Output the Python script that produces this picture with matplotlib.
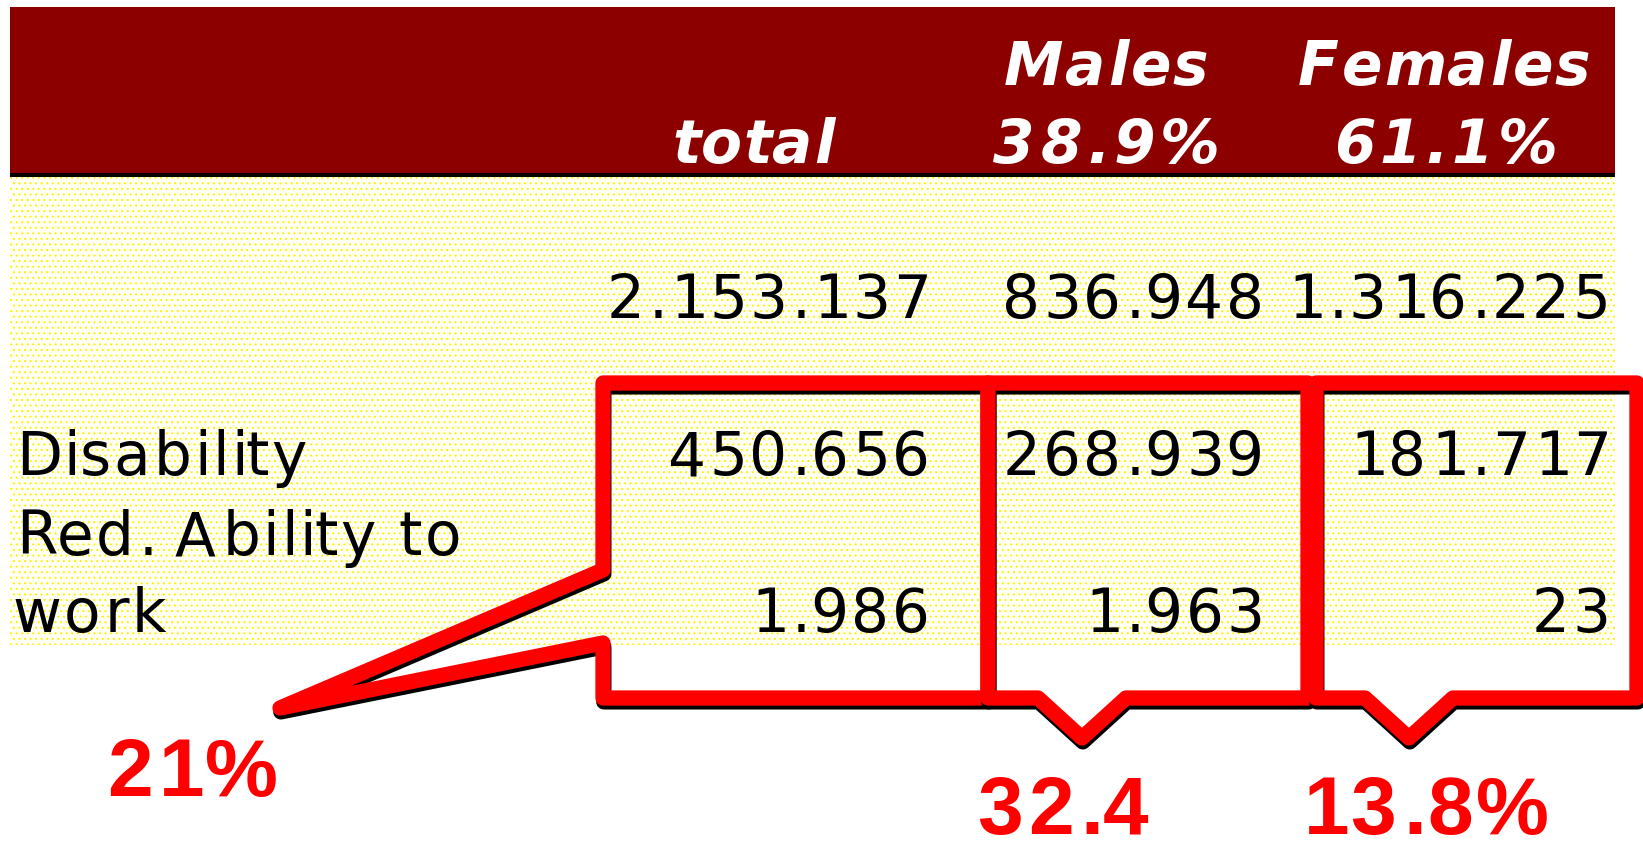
import matplotlib
matplotlib.use("Agg")
import matplotlib.pyplot as plt
from matplotlib.patches import Rectangle, Polygon
from matplotlib.font_manager import FontProperties, findfont, get_font
import matplotlib.patheffects as pe

# ---------------- data ----------------
col_names = ["total", "Males", "Females"]
col_shares = ["", "38.9%", "61.1%"]
row_labels = ["", "Disability", "Red. Ability to\nwork"]
total_values = ["2.153.137", "450.656", "1.986"]
male_values = ["836.948", "268.939", "1.963"]
female_values = ["1.316.225", "181.717", "23"]
callout_labels = ["21%", "32.4", "13.8%"]

# ---------------- layout ----------------
W, H, DPI = 1643, 850, 100
fig = plt.figure(figsize=(W / DPI, H / DPI), dpi=DPI)
ax = fig.add_axes([0, 0, 1, 1])
ax.set_xlim(0, W)
ax.set_ylim(H, 0)
ax.axis("off")

TABLE_L, TABLE_R = 10, 1615
HEAD_T, HEAD_B = 7, 173
BODY_B = 645
head_centers = [751, 1105, 1443]
col_rights = [926, 1260, 1606]
label_left = 10
row_baselines = [318, 475, 632]
line_gap = 77
head_base = [85, 163]

DARK_RED = "#8C0000"
RED = "#FF0000"

head_prop = FontProperties(family=["DejaVu Sans"], weight="bold", style="oblique", size=43)
body_prop = FontProperties(family=["DejaVu Sans"], size=43)
big_prop = FontProperties(family=["Liberation Sans", "DejaVu Sans"], weight="bold", size=59)


def glyph_metrics(s, prop):
    font = get_font(findfont(prop))
    font.set_size(prop.get_size_in_points(), DPI)
    out = []
    for c in s:
        g = font.load_char(ord(c))
        adv = g.linearHoriAdvance / 65536.0
        lsb = g.bbox[0] / 64.0 if c != " " else 0.0
        out.append((adv, lsb))
    return out


def spaced(x, y, s, prop, spacing, ha="left", color="black"):
    m = glyph_metrics(s, prop)
    total = sum(a for a, _ in m) + spacing * (len(s) - 1)
    if ha == "center":
        x0 = x - total / 2
    elif ha == "right":
        x0 = x - total
    else:
        x0 = x
    for c, (a, lsb) in zip(s, m):
        if c != " ":
            ax.text(x0 + lsb, y, c, fontproperties=prop, color=color,
                    ha="left", va="baseline")
        x0 += a + spacing


# ---------------- background ----------------
plt.rcParams["hatch.linewidth"] = 0.7
ax.add_patch(Rectangle((TABLE_L, HEAD_B), TABLE_R - TABLE_L, BODY_B - HEAD_B,
                       facecolor="#FFFFF4", edgecolor="#FFF000", hatch="...",
                       linewidth=0, zorder=0))
ax.add_patch(Rectangle((TABLE_L, HEAD_T), TABLE_R - TABLE_L, HEAD_B - HEAD_T,
                       facecolor=DARK_RED, edgecolor="none", zorder=1))
ax.add_patch(Rectangle((TABLE_L, HEAD_B), TABLE_R - TABLE_L, 4,
                       facecolor="black", edgecolor="none", zorder=1))

# ---------------- header ----------------
for i, name in enumerate(col_names):
    share = col_shares[i]
    if share:
        spaced(head_centers[i], head_base[0], name, head_prop, 2, "center", "white")
        spaced(head_centers[i], head_base[1], share, head_prop, 4, "center", "white")
    else:
        spaced(head_centers[i], head_base[1], name, head_prop, 1, "center", "white")

# ---------------- body ----------------
for r, label in enumerate(row_labels):
    lines = label.split("\n") if label else []
    n = len(lines)
    for k, line in enumerate(lines):
        yb = row_baselines[r] - (n - 1 - k) * line_gap
        spaced(label_left, yb, line, body_prop, 2, "left")
    for c, vals in enumerate([total_values, male_values, female_values]):
        spaced(col_rights[c], row_baselines[r], vals[r], body_prop, 2.5, "right")

# ---------------- callouts ----------------
box_left = [603, 988, 1316]
box_right = [988, 1308, 1637]
box_top, box_bot = 383, 698
notch_x = [None, 1082, 1409]
notch_half, notch_tip = 44, 738
side_tip = (280, 708)
side_y = (570, 643)

shadow = [pe.SimpleLineShadow(offset=(0.6, -2.8), shadow_color="black", alpha=1.0),
          pe.Normal()]

boxes = []
l, r = box_left[0], box_right[0]
boxes.append([(l, box_top), (r, box_top), (r, box_bot), (l, box_bot),
              (l, side_y[1]), side_tip, (l, side_y[0])])
for i in (1, 2):
    l, r, nx = box_left[i], box_right[i], notch_x[i]
    boxes.append([(l, box_top), (r, box_top), (r, box_bot), (nx + notch_half, box_bot),
                  (nx, notch_tip), (nx - notch_half, box_bot), (l, box_bot)])

for i, verts in enumerate(boxes):
    p = Polygon(verts, closed=True, fill=False, edgecolor=RED, linewidth=11,
                joinstyle="round", zorder=5 + i)
    p.set_path_effects(shadow)
    ax.add_patch(p)

# ---------------- callout labels ----------------
label_pos = [(190, 796), (1061, 834), (1423, 834)]
for (x, y), s in zip(label_pos, callout_labels):
    spaced(x, y, s, big_prop, 4, "center", RED)

fig.savefig("out.png", dpi=DPI)
